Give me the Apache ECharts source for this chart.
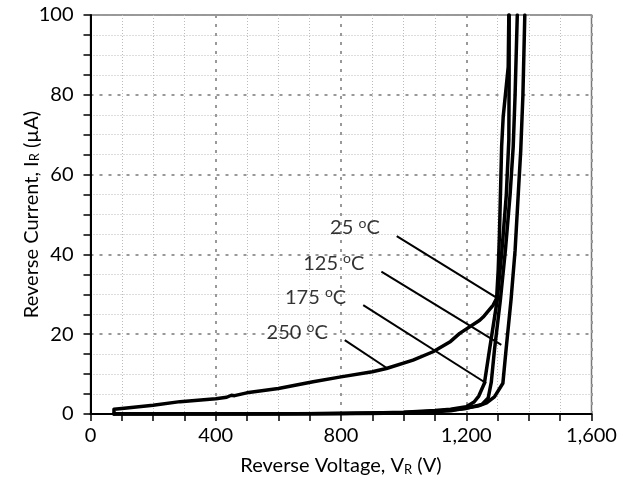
<!DOCTYPE html>
<html>
<head>
<meta charset="utf-8">
<script src="https://cdn.jsdelivr.net/npm/echarts@6/dist/echarts.min.js"></script>
<style>
html,body{margin:0;padding:0;background:#fff;}
#chart{width:631px;height:485px;}
</style>
</head>
<body>
<div id="chart"></div>
<script>
// ---- data ----
var xTicks = [0, 400, 800, 1200, 1600];
var yTicks = [0, 20, 40, 60, 80, 100];

var v250 = [75, 75, 100, 200, 286, 400, 435, 450, 460, 499, 600, 711, 800, 900, 945, 1030, 1094, 1150, 1179, 1243, 1254, 1286, 1297, 1302, 1306, 1313, 1318, 1334, 1336];
var i250 = [0, 1.2, 1.4, 2.2, 3.1, 3.8, 4.2, 4.7, 4.6, 5.3, 6.4, 8.1, 9.3, 10.6, 11.4, 13.5, 15.6, 18.2, 20.2, 23.5, 24.3, 27.3, 29, 36, 45, 67, 74.5, 87, 100];

var v175 = [75, 400, 700, 900, 1000, 1100, 1150, 1200, 1225, 1240, 1258, 1274, 1299, 1314, 1328, 1336, 1337, 1337];
var i175 = [0, 0.02, 0.08, 0.25, 0.45, 0.85, 1.2, 1.8, 3.0, 4.5, 7.7, 16, 28.6, 41, 55, 68.7, 85, 100];

var v25 = [75, 500, 800, 1000, 1100, 1200, 1250, 1270, 1280, 1290, 1309, 1325, 1340, 1350, 1356, 1363];
var i25 = [0, 0.02, 0.1, 0.35, 0.7, 1.4, 2.4, 4.0, 8.0, 16, 28.6, 41, 55, 67, 80, 100];

var v125 = [75, 600, 900, 1050, 1150, 1237, 1265, 1290, 1317, 1327, 1343, 1356, 1366, 1374, 1381, 1387];
var i125 = [0, 0.02, 0.12, 0.4, 0.8, 2.0, 2.8, 4.3, 7.7, 16, 28.6, 41, 55, 66, 80, 100];

// annotations (data coordinates)
var labelTemps = ['25', '125', '175', '250'];
var leaderFrom = [[978, 44.6], [929, 35.7], [871, 27.3], [812, 18.5]];
var leaderTo = [[1308, 28.6], [1312, 17.3], [1264, 7.7], [945, 11.6]];

// ---- build ----
function zip(a, b) { return a.map(function (v, k) { return [v, b[k]]; }); }
var FONT = 'Lato';
var INK = '#000';
var curves = [[v25, i25], [v125, i125], [v175, i175], [v250, i250]];

var series = [];
curves.forEach(function (c, k) {
  series.push({
    type: 'line', name: labelTemps[k], data: zip(c[0], c[1]),
    showSymbol: false, symbol: 'none', smooth: false,
    lineStyle: { color: '#000', width: 3.5, join: 'round', cap: 'round' },
    z: 5
  });
});
leaderFrom.forEach(function (p, k) {
  series.push({
    type: 'line', data: [p, leaderTo[k]], showSymbol: false, symbol: 'none',
    lineStyle: { color: '#000', width: 2 }, z: 4
  });
});
series.push({
  type: 'scatter', symbolSize: 0,
  data: leaderFrom.map(function (p, k) { return { value: p, name: labelTemps[k] }; }),
  label: {
    show: true, position: 'left', distance: 17, offset: [0, -8],
    formatter: function (d) { return d.name + ' {o|o}C'; },
    fontFamily: FONT, fontSize: 20, color: INK, lineHeight: 24,
    rich: { o: { fontFamily: FONT, fontSize: 14, lineHeight: 24, verticalAlign: 'top', color: INK } }
  },
  z: 6
});

var labelStyle = { fontFamily: FONT, fontSize: 20, color: INK };
var chart = echarts.init(document.getElementById('chart'), null, { renderer: 'canvas' });
chart.setOption({
  animation: false,
  backgroundColor: '#fff',
  grid: { left: 90.5, right: 39.5, top: 15, bottom: 71, show: true, borderColor: '#777', borderWidth: 1.5, backgroundColor: 'transparent' },
  xAxis: {
    type: 'value', min: xTicks[0], max: xTicks[xTicks.length - 1], interval: xTicks[1] - xTicks[0],
    name: 'Reverse Voltage, V{s|R} (V)', nameLocation: 'middle', nameGap: 42, nameMoveOverlap: false,
    nameTextStyle: { fontFamily: FONT, fontSize: 20, color: INK, rich: { s: { fontFamily: FONT, fontSize: 13, verticalAlign: 'bottom', color: INK } } },
    axisLine: { show: true, lineStyle: { color: '#000', width: 2 } },
    axisTick: { show: true, length: 7, lineStyle: { color: '#000', width: 1.5 } },
    minorTick: { show: true, splitNumber: 4, length: 7, lineStyle: { color: '#000', width: 1.5 } },
    splitLine: { show: true, lineStyle: { color: '#999', type: [3, 6], width: 2 } },
    minorSplitLine: { show: true, lineStyle: { color: '#bbb', type: [1, 2], width: 1 } },
    axisLabel: Object.assign({ margin: 12, formatter: function (v) { return v.toLocaleString('en-US'); } }, labelStyle)
  },
  yAxis: {
    type: 'value', min: yTicks[0], max: yTicks[yTicks.length - 1], interval: yTicks[1] - yTicks[0],
    name: 'Reverse Current, I{s|R} (\u00b5A)', nameLocation: 'middle', nameGap: 49, nameMoveOverlap: false,
    nameTextStyle: { fontFamily: FONT, fontSize: 20, color: INK, rich: { s: { fontFamily: FONT, fontSize: 13, verticalAlign: 'bottom', color: INK } } },
    axisLine: { show: true, lineStyle: { color: '#000', width: 2 } },
    axisTick: { show: true, length: 7, lineStyle: { color: '#000', width: 1.5 } },
    minorTick: { show: true, splitNumber: 4, length: 7, lineStyle: { color: '#000', width: 1.5 } },
    splitLine: { show: true, lineStyle: { color: '#999', type: [3, 6], width: 2 } },
    minorSplitLine: { show: true, lineStyle: { color: '#bbb', type: [1, 2], width: 1 } },
    axisLabel: Object.assign({ margin: 17 }, labelStyle)
  },
  series: series
});
</script>
</body>
</html>
